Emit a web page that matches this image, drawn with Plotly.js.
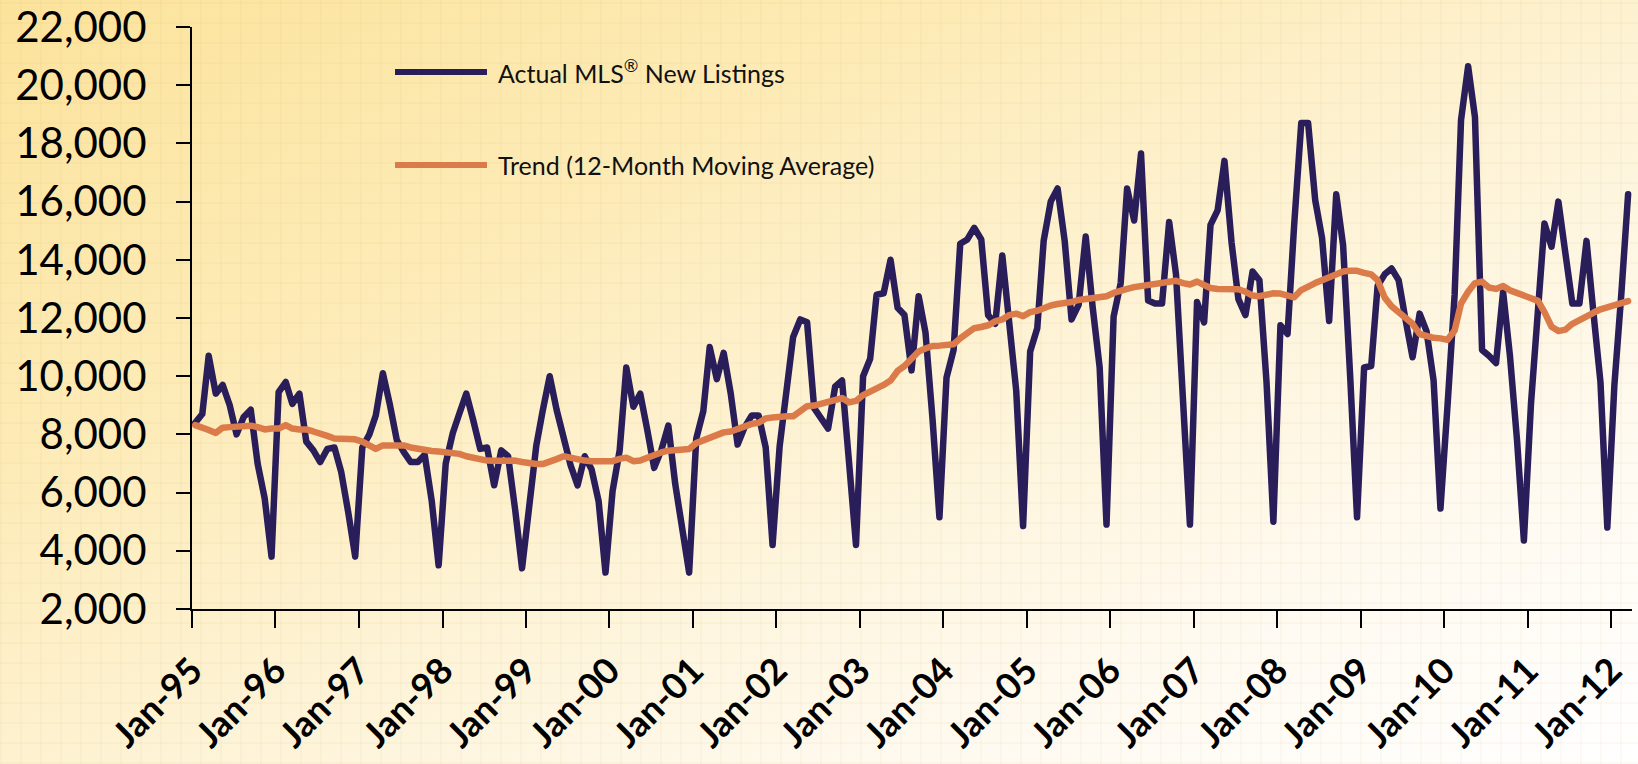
<!DOCTYPE html>
<html>
<head>
<meta charset="utf-8">
<script src="https://cdn.plot.ly/plotly-3.0.1.min.js"></script>
<style>
  html, body { margin: 0; padding: 0; }
  body {
    width: 1638px; height: 764px; overflow: hidden;
    background:
      repeating-linear-gradient(0deg, rgba(190,160,90,0.055) 0px, rgba(190,160,90,0.055) 2px, transparent 2px, transparent 20px),
      repeating-linear-gradient(90deg, rgba(190,160,90,0.055) 0px, rgba(190,160,90,0.055) 2px, transparent 2px, transparent 20px),
      linear-gradient(155deg, #fce39c 0%, #fdebb6 30%, #fdf3d6 55%, #fffaf0 78%, #ffffff 100%);
  }
  #chart { width: 1638px; height: 764px; }
  path.js-line { stroke-linejoin: round !important; stroke-linecap: round !important; }
</style>
</head>
<body>
<div id="chart"></div>
<script>
// ---- data (monthly, Jan-1995 .. Mar-2012) ----
const startYear = 1995;
const monthCount = 207;

const actualListings = [
  8400, 8700, 10700, 9400, 9700, 9000, 8000, 8600, 8850, 7000, 5800, 3800,      // 1995
  9450, 9800, 9050, 9400, 7750, 7450, 7050, 7500, 7550, 6700, 5300, 3800,       // 1996
  7550, 8000, 8650, 10100, 9050, 7800, 7400, 7050, 7050, 7300, 5700, 3500,      // 1997
  7000, 8050, 8700, 9400, 8500, 7500, 7550, 6250, 7450, 7250, 5400, 3400,       // 1998
  5500, 7600, 8800, 10000, 8850, 7800, 6950, 6250, 7250, 6800, 5700, 3250,      // 1999
  6050, 7450, 10300, 8950, 9400, 8150, 6850, 7450, 8300, 6300, 4800, 3250,      // 2000
  7850, 8800, 11000, 9900, 10800, 9400, 7650, 8250, 8650, 8650, 7550, 4200,     // 2001
  7600, 9550, 11350, 11950, 11850, 8900, 8600, 8200, 9650, 9850, 7000, 4200,    // 2002
  10000, 10600, 12800, 12850, 14000, 12350, 12100, 10200, 12750, 11500, 8500, 5150, // 2003
  9950, 10900, 14550, 14700, 15100, 14700, 12100, 11800, 14150, 11800, 9500, 4850,  // 2004
  10850, 11650, 14650, 16000, 16450, 14650, 11950, 12450, 14800, 12400, 10300, 4900, // 2005
  12050, 13200, 16450, 15350, 17650, 12600, 12500, 12500, 15300, 13500, 9200, 4900,  // 2006
  12550, 11850, 15200, 15700, 17400, 14600, 12650, 12100, 13600, 13300, 9800, 5000,  // 2007
  11750, 11450, 15200, 18700, 18700, 16050, 14750, 11900, 16250, 14500, 10000, 5150, // 2008
  10300, 10350, 13100, 13500, 13700, 13300, 11950, 10650, 12150, 11550, 9850, 5450,  // 2009
  9000, 12800, 18800, 20650, 18900, 10900, 10700, 10450, 12900, 10700, 7800, 4350,   // 2010
  9050, 12000, 15250, 14450, 16000, 14200, 12500, 12500, 14650, 12200, 9800, 4800,   // 2011
  9700, 12900, 16250                                                                 // 2012
];

const trendMA = [
  8320, 8250, 8150, 8050, 8230, 8250, 8280, 8320, 8300, 8250, 8170, 8200,      // 1995
  8200, 8320, 8200, 8170, 8170, 8100, 8000, 7950, 7860, 7850, 7840, 7830,      // 1996
  7750, 7600, 7500, 7620, 7620, 7620, 7620, 7550, 7500, 7450, 7430, 7410,      // 1997
  7400, 7370, 7330, 7250, 7200, 7120, 7100, 7090, 7100, 7120, 7100, 7050,      // 1998
  7000, 6980, 6980, 7050, 7150, 7250, 7200, 7120, 7100, 7080, 7070, 7060,      // 1999
  7080, 7160, 7200, 7080, 7100, 7200, 7300, 7380, 7440, 7450, 7460, 7500,      // 2000
  7700, 7800, 7880, 7950, 8070, 8100, 8190, 8250, 8360, 8400, 8550, 8580,      // 2001
  8620, 8620, 8620, 8830, 8970, 8990, 9040, 9100, 9200, 9250, 9100, 9150,      // 2002
  9350, 9450, 9550, 9700, 9850, 10180, 10350, 10600, 10850, 10950, 11040, 11050, // 2003
  11070, 11100, 11300, 11450, 11650, 11690, 11750, 11880, 11950, 12100, 12150, 12060, // 2004
  12200, 12250, 12350, 12430, 12480, 12500, 12550, 12620, 12650, 12680, 12700, 12750, // 2005
  12860, 12950, 13000, 13060, 13100, 13120, 13170, 13200, 13250, 13280, 13200, 13150, // 2006
  13250, 13100, 13030, 13000, 13000, 13000, 12990, 12900, 12770, 12750, 12800, 12850, // 2007
  12840, 12750, 12710, 12960, 13100, 13200, 13300, 13400, 13500, 13600, 13620, 13620, // 2008
  13550, 13500, 13300, 12700, 12400, 12200, 12000, 11800, 11450, 11380, 11320, 11300, // 2009
  11250, 11570, 12500, 12900, 13200, 13250, 13050, 13000, 13100, 12950, 12850, 12750, // 2010
  12650, 12590, 12200, 11700, 11550, 11600, 11800, 11950, 12050, 12180, 12300, 12380, // 2011
  12450, 12500, 12580                                                                 // 2012
];

const tickYears = [1995,1996,1997,1998,1999,2000,2001,2002,2003,2004,2005,2006,2007,2008,2009,2010,2011,2012];
const tickLabels = ["Jan-95","Jan-96","Jan-97","Jan-98","Jan-99","Jan-00","Jan-01","Jan-02","Jan-03","Jan-04","Jan-05","Jan-06","Jan-07","Jan-08","Jan-09","Jan-10","Jan-11","Jan-12"];
const yTicks = [2000,4000,6000,8000,10000,12000,14000,16000,18000,20000,22000];
const yTickLabels = ["2,000","4,000","6,000","8,000","10,000","12,000","14,000","16,000","18,000","20,000","22,000"];
const seriesNames = ["Actual MLS<sup>®</sup> New Listings", "Trend (12-Month Moving Average)"];

// month mid-points as dates
const months = [];
for (let k = 0; k < monthCount; k++) {
  const y = startYear + Math.floor(k / 12);
  const m = (k % 12) + 1;
  months.push(y + "-" + String(m).padStart(2, "0") + "-15");
}
const tickVals = tickYears.map(y => y + "-01-01");

const NAVY = "#291d5a";
const ORANGE = "#dc7b4a";
const FONT = "Lato, 'Open Sans', sans-serif";

const traces = [
  { x: months, y: actualListings, type: "scatter", mode: "lines", name: "Actual",
    line: { color: NAVY, width: 6.5 }, hoverinfo: "x+y" },
  { x: months, y: trendMA, type: "scatter", mode: "lines", name: "Trend",
    line: { color: ORANGE, width: 6.5 }, hoverinfo: "x+y" }
];

const L = 192, R = 6, T = 27, B = 155;
const W = 1638, H = 764;
const px2x = px => (px - L) / (W - L - R);
const py2y = py => (H - B - py) / (H - T - B);

const layout = {
  width: W, height: H,
  margin: { l: L, r: R, t: T, b: B, pad: 0 },
  paper_bgcolor: "rgba(0,0,0,0)",
  plot_bgcolor: "rgba(0,0,0,0)",
  showlegend: false,
  font: { family: FONT, color: "#000" },
  xaxis: {
    type: "date",
    range: ["1995-01-01", "2012-04-01"],
    tickvals: tickVals, ticktext: tickLabels,
    tickangle: -45,
    ticks: "outside", ticklen: 17, tickwidth: 2, tickcolor: "#000",
    showline: true, linecolor: "#000", linewidth: 2,
    showgrid: false, zeroline: false,
    ticklabeloverflow: "allow",
    ticklabelstandoff: 7,
    tickfont: { family: FONT, size: 36, color: "#000", weight: 700 }
  },
  yaxis: {
    range: [1999.5, 22000.5],
    tickvals: yTicks, ticktext: yTickLabels,
    ticks: "outside", ticklen: 14, tickwidth: 2, tickcolor: "#000",
    showline: true, linecolor: "#000", linewidth: 2,
    showgrid: false, zeroline: false,
    ticklabeloverflow: "allow",
    ticklabelstandoff: 21,
    tickfont: { family: FONT, size: 42, color: "#000" }
  },
  shapes: [
    { type: "line", xref: "paper", yref: "paper", x0: px2x(395), x1: px2x(487), y0: py2y(72), y1: py2y(72),
      line: { color: NAVY, width: 6 } },
    { type: "line", xref: "paper", yref: "paper", x0: px2x(395), x1: px2x(487), y0: py2y(165), y1: py2y(165),
      line: { color: ORANGE, width: 6 } }
  ],
  annotations: [
    { xref: "paper", yref: "paper", x: px2x(496), y: py2y(72), xanchor: "left", yanchor: "middle",
      text: seriesNames[0], showarrow: false, font: { family: FONT, size: 25, color: "#111" } },
    { xref: "paper", yref: "paper", x: px2x(496), y: py2y(165), xanchor: "left", yanchor: "middle",
      text: seriesNames[1], showarrow: false, font: { family: FONT, size: 25, color: "#111" } }
  ]
};

Plotly.newPlot("chart", traces, layout, { displayModeBar: false, staticPlot: true });
</script>
</body>
</html>
